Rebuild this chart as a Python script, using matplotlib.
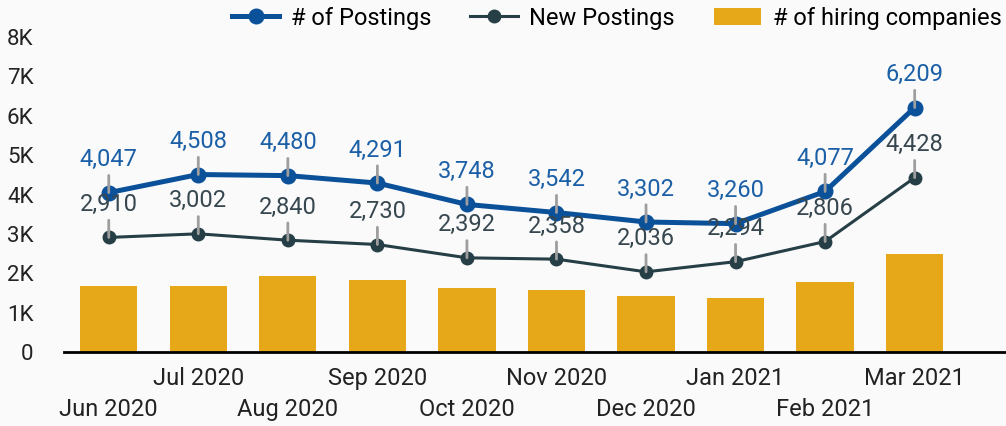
"""
Job postings and hiring companies by month.
"""

import matplotlib as mpl

mpl.use("Agg")

import matplotlib.pyplot as plt
import numpy as np

MONTHS = ["Jun 2020", "Jul 2020", "Aug 2020", "Sep 2020", "Oct 2020",
          "Nov 2020", "Dec 2020", "Jan 2021", "Feb 2021", "Mar 2021"]
POSTINGS = [4047, 4508, 4480, 4291, 3748, 3542, 3302, 3260, 4077, 6209]
NEW_POSTINGS = [2910, 3002, 2840, 2730, 2392, 2358, 2036, 2294, 2806, 4428]
HIRING_COMPANIES = [1680, 1680, 1930, 1830, 1620, 1570, 1420, 1370, 1780, 2490]
Y_TICKS = [0, 1000, 2000, 3000, 4000, 5000, 6000, 7000, 8000]
Y_TICK_LABELS = ["0", "1K", "2K", "3K", "4K", "5K", "6K", "7K", "8K"]

BLUE = "#0b519a"
BLUE_TEXT = "#1b5fa6"
SLATE = "#263f47"
SLATE_TEXT = "#37474f"
GOLD = "#e6a718"
LEADER = "#9e9e9e"
BG = "#fafafa"
FONT_SIZE = 17

plt.rcParams["font.family"] = ["Roboto", "DejaVu Sans"]


def label_points(ax, x, values, color):
    for xi, v in zip(x, values):
        ax.annotate(
            f"{v:,}",
            xy=(xi, v),
            xytext=(0, 19),
            textcoords="offset points",
            ha="center",
            va="baseline",
            fontsize=FONT_SIZE,
            color=color,
            arrowprops=dict(arrowstyle="-", color=LEADER, lw=2, shrinkA=1, shrinkB=0),
            zorder=5,
        )


def main():
    fig = plt.figure(figsize=(10.06, 4.26), dpi=100, facecolor=BG)
    ax = fig.add_axes([0.0636, 0.1737, 0.9364, 0.7394], facecolor=BG)

    x = np.arange(len(MONTHS))
    bars = ax.bar(x, HIRING_COMPANIES, width=0.64, color=GOLD, zorder=1,
                  label="# of hiring companies")
    line2, = ax.plot(x, NEW_POSTINGS, color=SLATE, lw=2.2, marker="o", ms=9,
                     zorder=3, label="New Postings")
    line1, = ax.plot(x, POSTINGS, color=BLUE, lw=3.6, marker="o", ms=10.5,
                     zorder=4, label="# of Postings")

    label_points(ax, x, NEW_POSTINGS, SLATE_TEXT)
    label_points(ax, x, POSTINGS, BLUE_TEXT)

    ax.set_xlim(-0.5, 10.02)
    ax.set_ylim(0, 8000)
    ax.set_yticks(Y_TICKS)
    ax.set_yticklabels(Y_TICK_LABELS, fontsize=16, color="#222222")
    ax.set_xticks(x)
    ax.set_xticklabels(MONTHS, fontsize=FONT_SIZE, color="#222222")
    for i, tick in enumerate(ax.xaxis.get_major_ticks()):
        tick.set_pad(33 if i % 2 == 0 else 11)
    ax.tick_params(axis="both", length=0)
    ax.tick_params(axis="y", pad=22)

    for side in ["top", "right", "left"]:
        ax.spines[side].set_visible(False)
    ax.spines["bottom"].set_color("black")
    ax.spines["bottom"].set_linewidth(2)
    ax.spines["bottom"].set_zorder(6)

    fig.legend(
        [line1, line2, bars],
        ["# of Postings", "New Postings", "# of hiring companies"],
        loc="center right",
        bbox_to_anchor=(1.005, 1 - 18 / 426),
        ncol=3,
        frameon=False,
        fontsize=FONT_SIZE,
        handlelength=2.0,
        handletextpad=0.5,
        columnspacing=1.65,
        borderaxespad=0,
    )

    fig.savefig("out.png", dpi=100, facecolor=BG)
    plt.close(fig)


if __name__ == "__main__":
    main()
